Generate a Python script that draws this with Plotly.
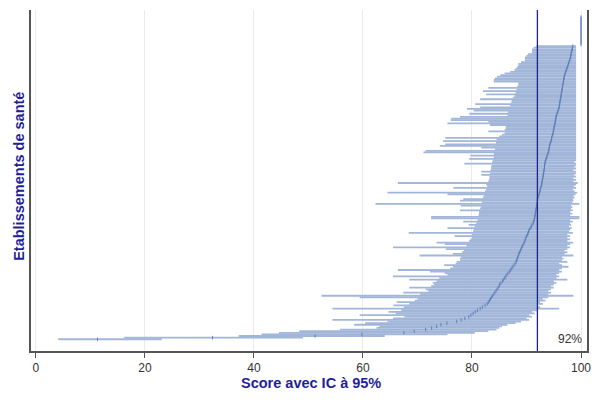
import plotly.graph_objects as go

# Établissements triés par score croissant (le premier est en bas du graphique)
scores = [
    11.3, 32.4, 51.2, 59.8, 67.5, 69.4, 71.5, 72.6, 73.5, 74.3,
    75.4, 77.2, 78.0, 78.7, 79.4, 79.8, 80.2, 80.6, 81.0, 81.5,
    81.9, 82.4, 82.8, 83.0, 83.2, 83.4, 83.6, 83.8, 84.0, 84.2,
    84.4, 84.6, 84.8, 85.0, 85.1, 85.3, 85.6, 85.8, 86.0, 86.2,
    86.4, 86.6, 86.9, 87.1, 87.3, 87.5, 87.7, 87.9, 88.1, 88.2,
    88.3, 88.4, 88.5, 88.6, 88.7, 88.9, 89.0, 89.1, 89.3, 89.4,
    89.6, 89.7, 89.8, 89.9, 90.0, 90.2, 90.3, 90.4, 90.5, 90.7,
    90.9, 91.0, 91.2, 91.3, 91.4, 91.5, 91.5, 91.6, 91.6, 91.7,
    91.7, 91.8, 91.8, 91.9, 91.9, 92.0, 92.0, 92.0, 92.1, 92.2,
    92.3, 92.4, 92.5, 92.5, 92.6, 92.7, 92.8, 92.8, 92.9, 92.9,
    93.0, 93.0, 93.1, 93.1, 93.2, 93.2, 93.3, 93.3, 93.3, 93.4,
    93.4, 93.5, 93.6, 93.7, 93.8, 93.9, 94.0, 94.1, 94.1, 94.2,
    94.2, 94.3, 94.4, 94.5, 94.6, 94.6, 94.7, 94.8, 94.9, 94.9,
    95.0, 95.0, 95.1, 95.2, 95.2, 95.3, 95.3, 95.4, 95.4, 95.5,
    95.6, 95.7, 95.8, 95.9, 96.0, 96.0, 96.1, 96.1, 96.2, 96.2,
    96.3, 96.3, 96.4, 96.4, 96.5, 96.5, 96.6, 96.6, 96.7, 96.7,
    96.8, 96.8, 96.9, 96.9, 97.0, 97.1, 97.2, 97.3, 97.4, 97.5,
    97.6, 97.7, 97.8, 97.9, 98.0, 98.1, 98.1, 98.2, 98.2, 98.3,
    98.4, 98.4, 98.5, 100, 100, 100, 100, 100, 100, 100,
    100, 100, 100, 100, 100, 100, 100, 100, 100, 100,
    100,
]

ic_bas = [
    4.1, 16.2, 37.2, 41.4, 44.6, 48.3, 55.8, 62.5, 63.0, 58.4,
    60.4, 64.5, 54.4, 65.5, 67.6, 59.4, 66.0, 64.7, 67.0, 54.4,
    67.5, 65.6, 68.5, 66.2, 69.5, 70.0, 59.4, 52.4, 70.5, 67.4,
    72.0, 71.5, 68.5, 72.5, 73.0, 72.8, 73.5, 68.5, 74.0, 65.5,
    75.5, 75.0, 72.3, 66.4, 76.0, 76.5, 74.9, 77.0, 77.2, 77.8,
    77.8, 78.0, 70.4, 76.5, 78.2, 78.5, 75.2, 65.5, 79.0, 75.0,
    73.5, 79.5, 79.7, 80.0, 76.8, 80.0, 68.4, 80.2, 80.3, 75.5,
    80.5, 79.4, 80.8, 78.4, 81.0, 72.5, 72.5, 81.2, 81.3, 81.3,
    77.8, 81.5, 81.6, 77.9, 62.3, 81.8, 77.8, 78.4, 82.0, 82.2,
    75.5, 64.5, 82.4, 82.6, 76.6, 82.8, 82.6, 66.4, 83.0, 83.1,
    83.2, 83.2, 81.7, 83.3, 81.7, 83.4, 83.5, 83.5, 83.6, 78.6,
    83.7, 83.8, 79.5, 84.0, 79.7, 84.0, 71.1, 71.5, 84.2, 81.7,
    74.1, 75.1, 84.4, 74.7, 84.5, 75.1, 85.0, 85.5, 86.0, 83.0,
    86.0, 86.2, 86.2, 83.3, 75.5, 83.0, 76.1, 76.2, 77.8, 86.5,
    79.5, 86.6, 80.3, 79.1, 81.5, 87.0, 80.6, 87.2, 87.3, 81.5,
    87.5, 87.8, 82.6, 88.0, 82.0, 88.2, 83.0, 88.3, 88.5, 88.5,
    84.0, 84.0, 84.2, 84.6, 85.2, 86.0, 87.0, 87.8, 88.0, 88.3,
    88.5, 88.5, 89.0, 89.7, 89.7, 89.7, 90.0, 90.3, 91.0, 91.0,
    91.0, 91.3, 91.8, 100, 100, 100, 100, 100, 100, 100,
    100, 100, 100, 100, 100, 100, 100, 100, 100, 100,
    100,
]

ic_haut = [
    23.1, 49.0, 64.0, 75.5, 80.5, 83.0, 84.5, 85.0, 85.5, 86.5,
    88.0, 89.0, 90.5, 90.0, 91.0, 90.5, 91.5, 91.0, 92.0, 96.0,
    92.5, 92.0, 93.0, 92.5, 93.5, 93.0, 94.0, 98.6, 94.0, 94.5,
    94.0, 94.5, 95.0, 94.5, 95.0, 95.5, 95.0, 97.5, 95.5, 96.0,
    95.5, 96.0, 96.5, 96.0, 96.5, 97.7, 96.5, 96.0, 97.5, 96.5,
    96.8, 96.5, 98.6, 97.0, 97.5, 97.0, 97.5, 98.0, 97.5, 98.0,
    98.6, 97.5, 98.0, 97.5, 98.0, 97.5, 98.5, 97.8, 98.0, 98.3,
    97.8, 98.2, 98.0, 98.5, 98.0, 99.7, 99.7, 98.0, 98.4, 98.0,
    98.5, 98.2, 98.4, 98.2, 99.7, 98.4, 98.6, 98.5, 98.8, 98.6,
    99.0, 99.3, 98.8, 98.5, 99.1, 98.7, 99.1, 99.4, 98.6, 99.1,
    98.6, 99.1, 98.8, 99.1, 99.1, 98.6, 99.1, 98.8, 99.1, 99.1,
    98.8, 99.1, 99.1, 99.1, 99.1, 99.1, 99.1, 99.1, 99.1, 99.1,
    99.1, 99.1, 99.1, 99.1, 99.1, 99.1, 99.1, 99.1, 99.1, 99.1,
    99.1, 99.1, 99.1, 99.1, 99.1, 99.1, 99.1, 99.1, 99.1, 99.1,
    99.1, 99.1, 99.1, 99.1, 99.1, 99.1, 99.1, 99.1, 99.1, 99.1,
    99.1, 99.1, 99.1, 99.1, 99.1, 99.1, 99.1, 99.1, 99.1, 99.1,
    99.1, 99.1, 99.1, 99.1, 99.1, 99.1, 99.1, 99.1, 99.1, 99.1,
    99.1, 99.1, 99.1, 99.1, 99.1, 99.1, 99.1, 99.1, 99.1, 99.1,
    99.1, 99.1, 99.1, 100, 100, 100, 100, 100, 100, 100,
    100, 100, 100, 100, 100, 100, 100, 100, 100, 100,
    100,
]

seuil = 92
x_ticks = [0, 20, 40, 60, 80, 100]

rangs = list(range(len(scores)))

# Segments horizontaux des intervalles de confiance
seg_x, seg_y = [], []
for r, lo, hi in zip(rangs, ic_bas, ic_haut):
    seg_x += [lo, hi, None]
    seg_y += [r, r, None]

fig = go.Figure()
fig.add_trace(go.Scatter(
    x=seg_x, y=seg_y, mode="lines",
    line=dict(color="#a2b6d9", width=1.8),
    hoverinfo="skip", showlegend=False,
))
fig.add_trace(go.Scatter(
    x=scores, y=rangs, mode="markers",
    marker=dict(symbol="line-ns", size=2.5,
                line=dict(color="#5a7bb3", width=0.9)),
    showlegend=False,
))

# Ligne de référence
fig.add_shape(type="line", xref="x", yref="paper",
              x0=seuil, x1=seuil, y0=0, y1=1,
              line=dict(color="#23238f", width=1.3))
fig.add_annotation(xref="paper", yref="paper", x=0.995, y=0.008,
                   xanchor="right", yanchor="bottom", showarrow=False,
                   text=f"{seuil}%",
                   font=dict(family="Liberation Sans, Arial", size=12, color="#333333"))

title_font = dict(family="Liberation Sans, Arial", size=14.5, color="#1f1f99")
fig.add_annotation(xref="paper", yref="paper", x=0.504, y=-0.095,
                   xanchor="center", yanchor="middle", showarrow=False,
                   text="<b>Score avec IC à 95%</b>", font=title_font)
fig.add_annotation(xref="paper", yref="paper", x=-0.022, y=0.513,
                   xanchor="center", yanchor="middle", showarrow=False,
                   textangle=-90,
                   text="<b>Etablissements de santé</b>", font=title_font)

fig.update_xaxes(
    range=[-0.9, 101.1], tickvals=x_ticks, ticks="outside", ticklen=5,
    tickcolor="#555555", tickwidth=1,
    showline=True, linecolor="#555555", linewidth=1.5,
    showgrid=True, gridcolor="#ebebeb", gridwidth=1, zeroline=False,
    tickfont=dict(family="Liberation Sans, Arial", size=12, color="#333333"),
)
fig.update_yaxes(
    range=[-7.3, 204.4], showticklabels=False, ticks="",
    showline=True, linecolor="#555555", linewidth=1.5, mirror=True,
    showgrid=False, zeroline=False,
)
fig.update_layout(
    width=598, height=401,
    margin=dict(l=31, r=7, t=10, b=50),
    paper_bgcolor="white", plot_bgcolor="white",
    hovermode=False,
)

fig.write_html("out.html")
